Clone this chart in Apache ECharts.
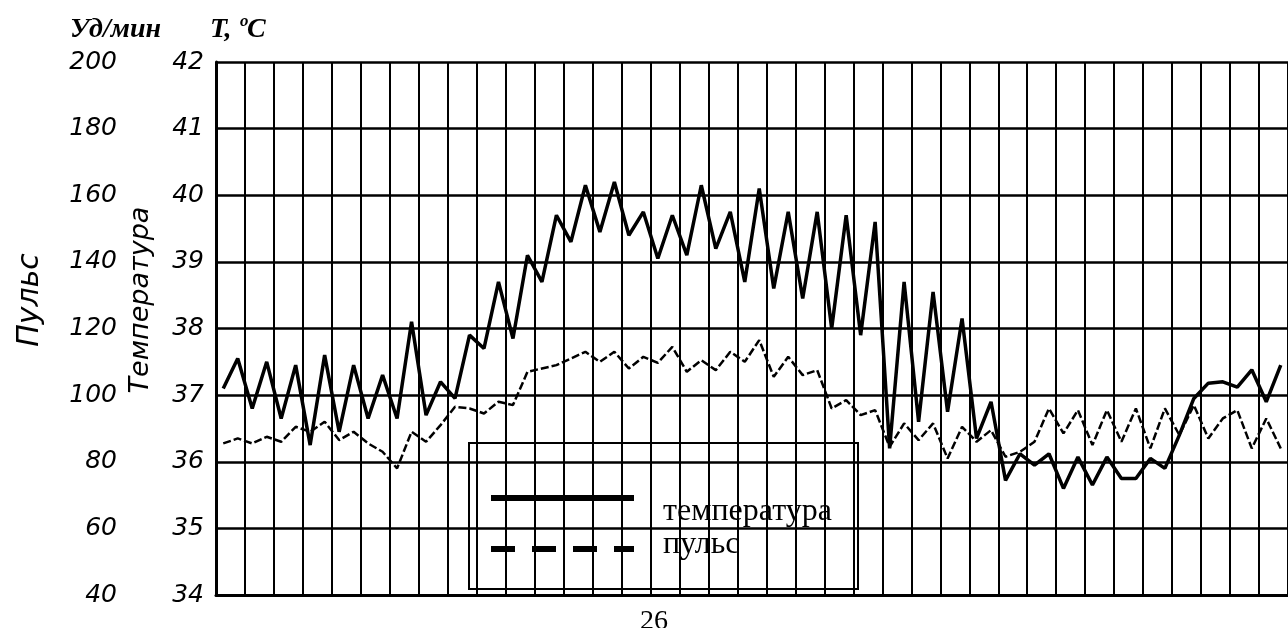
<!DOCTYPE html>
<html>
<head>
<meta charset="utf-8">
<script src="https://cdn.jsdelivr.net/npm/echarts@6/dist/echarts.min.js"></script>
<style>
  html, body { margin: 0; padding: 0; background: #fff; }
  #chart { width: 1288px; height: 628px; }
</style>
</head>
<body>
<div id="chart"></div>
<script>
// полусутки: утро / вечер, 37 дней
const days = 37
const halfDays = []
for (let d = 1; d <= days; d++) {
  halfDays.push(d + 'у', d + 'в')
}

// температура, °C
const temperature = [
  37.1, 37.55, 36.8, 37.5, 36.65, 37.45, 36.25, 37.6, 36.45, 37.45,
  36.65, 37.3, 36.65, 38.1, 36.7, 37.2, 36.95, 37.9, 37.7, 38.7,
  37.85, 39.1, 38.7, 39.7, 39.3, 40.15, 39.45, 40.2, 39.4, 39.75,
  39.05, 39.7, 39.1, 40.15, 39.2, 39.75, 38.7, 40.1, 38.6, 39.75,
  38.45, 39.75, 38.0, 39.7, 37.9, 39.6, 36.2, 38.7, 36.6, 38.55,
  36.75, 38.15, 36.35, 36.9, 35.72, 36.12, 35.95, 36.12, 35.6, 36.07,
  35.65, 36.07, 35.75, 35.75, 36.05, 35.9, 36.4, 36.95, 37.18, 37.2,
  37.12, 37.38, 36.9, 37.45
]

// пульс, уд/мин
const pulse = [
  85.5, 87, 85.5, 87.5, 86, 90.5, 89, 92, 86.5, 89,
  85.5, 83, 78, 89, 86, 91, 96.5, 96, 94.5, 98,
  97, 107, 108, 109, 111, 113, 110, 113, 108, 111.5,
  109.7, 114.5, 107, 110.5, 107.5, 113, 110, 116.5, 105.5, 111.5,
  106, 107.5, 96, 98.5, 94, 95.5, 84.5, 91.5, 86.5, 91.5,
  81, 90.5, 86, 89.5, 81.5, 83, 86, 96, 88.5, 95.5,
  85, 95.5, 86, 96, 84, 96, 88, 97, 87, 93,
  95.5, 84, 93, 84
]

const labelFont = {
  color: '#000',
  fontSize: 25,
  fontStyle: 'italic',
  fontFamily: 'DejaVu Sans'
}
const titleFont = {
  fill: '#000',
  fontSize: 28,
  fontStyle: 'italic',
  fontWeight: 'bold',
  fontFamily: 'Liberation Serif'
}

const chart = echarts.init(document.getElementById('chart'))

chart.setOption({
  backgroundColor: '#fff',
  animation: false,
  grid: {
    left: 216,
    top: 62,
    width: 1075,
    height: 533
  },
  xAxis: {
    type: 'category',
    data: halfDays,
    boundaryGap: true,
    axisLine: { show: true, lineStyle: { color: '#000', width: 3 } },
    axisTick: { show: false },
    axisLabel: { show: false },
    splitLine: {
      show: true,
      interval: 1,
      lineStyle: { color: '#000', width: 2 }
    }
  },
  yAxis: [
    {
      type: 'value',
      min: 34,
      max: 42,
      interval: 1,
      position: 'left',
      axisLine: { show: true, lineStyle: { color: '#000', width: 3 } },
      axisTick: { show: false },
      axisLabel: Object.assign({ margin: 12 }, labelFont),
      splitLine: { show: true, lineStyle: { color: '#000', width: 2.5 } }
    },
    {
      type: 'value',
      min: 40,
      max: 200,
      interval: 20,
      position: 'left',
      offset: 91,
      axisLine: { show: false },
      axisTick: { show: false },
      axisLabel: Object.assign({ margin: 8 }, labelFont),
      splitLine: { show: false }
    }
  ],
  series: [
    {
      name: 'температура',
      type: 'line',
      yAxisIndex: 0,
      data: temperature,
      showSymbol: false,
      lineStyle: { color: '#000', width: 3.5 },
      z: 5
    },
    {
      name: 'пульс',
      type: 'line',
      yAxisIndex: 1,
      data: pulse,
      showSymbol: false,
      lineStyle: { color: '#000', width: 2.5, type: [8, 3] },
      z: 4
    }
  ],
  graphic: [
    { type: 'text', left: 70, top: 16, style: Object.assign({ text: 'Уд/мин' }, titleFont) },
    { type: 'text', left: 210, top: 16, style: Object.assign({ text: 'T, ºC' }, titleFont) },
    {
      type: 'text',
      x: 30,
      y: 300,
      rotation: Math.PI / 2,
      style: {
        text: 'Пульс',
        fill: '#000',
        fontSize: 30,
        fontStyle: 'italic',
        fontFamily: 'DejaVu Sans',
        align: 'center',
        verticalAlign: 'middle'
      }
    },
    {
      type: 'text',
      x: 141,
      y: 300,
      rotation: Math.PI / 2,
      style: {
        text: 'Температура',
        fill: '#000',
        fontSize: 27,
        fontStyle: 'italic',
        fontFamily: 'DejaVu Sans',
        align: 'center',
        verticalAlign: 'middle'
      }
    },
    // легенда
    {
      type: 'group',
      left: 468,
      top: 442,
      z: 100,
      children: [
        {
          type: 'rect',
          shape: { x: 0, y: 0, width: 389, height: 146 },
          style: { fill: '#fff', stroke: '#000', lineWidth: 2 }
        },
        {
          type: 'line',
          shape: { x1: 22, y1: 55, x2: 165, y2: 55 },
          style: { stroke: '#000', lineWidth: 6 }
        },
        {
          type: 'line',
          shape: { x1: 22, y1: 106, x2: 165, y2: 106 },
          style: { stroke: '#000', lineWidth: 6, lineDash: [24, 17] }
        },
        {
          type: 'text',
          x: 194,
          y: 69,
          style: { text: 'температура', fill: '#000', fontSize: 32, fontFamily: 'Liberation Serif', verticalAlign: 'middle' }
        },
        {
          type: 'text',
          x: 194,
          y: 102,
          style: { text: 'пульс', fill: '#000', fontSize: 32, fontFamily: 'Liberation Serif', verticalAlign: 'middle' }
        }
      ]
    },
    { type: 'text', left: 640, top: 608, style: { text: '26', fill: '#000', fontSize: 28, fontFamily: 'Liberation Serif' } }
  ]
})
</script>
</body>
</html>
